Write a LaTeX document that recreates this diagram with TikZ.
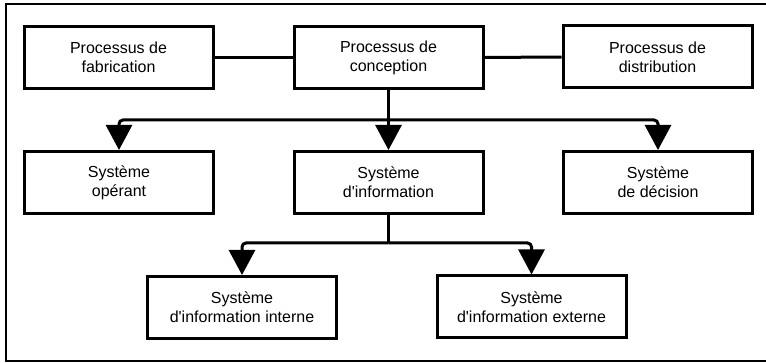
\documentclass[tikz,border=0pt]{standalone}
\usepackage{fontspec}
\setmainfont{Liberation Sans}[Ligatures=TeXOff]
\usetikzlibrary{arrows.meta}

\tikzset{
  boite/.style={draw, line width=3pt, fill=white, align=center,
    minimum width=189pt, minimum height=62pt,
    font=\fontsize{16}{19}\selectfont},
  lien/.style={line width=3pt},
  fleche/.style={lien, rounded corners=4pt,
    -{Triangle[length=25pt,width=26pt]}}
}

\begin{document}
\begin{tikzpicture}[x=1pt, y=-1pt]
    \useasboundingbox (0,0) rectangle (766,363);
    \draw[line width=1.6pt] (766,4) -- (6,4) -- (6,361) -- (766,361);
    % processus
    \node[boite] (fab)  at (118.5,57.5) {Processus de\\fabrication};
    \node[boite] (conc) at (388.5,57.5) {Processus de\\conception};
    \node[boite] (dist) at (657.5,57)   {Processus de\\distribution};
    % systemes
    \node[boite] (oper) at (119,182.5)   {Système\\opérant};
    \node[boite] (info) at (388.5,182.5) {Système\\d'information};
    \node[boite] (deci) at (658,182.5)   {Système\\de décision};
    \node[boite] (inter) at (242,307.5)  {Système\\d'information interne};
    \node[boite] (exter) at (531.5,307)  {Système\\d'information externe};
    \coordinate (bus1) at (388.5,120);
    \coordinate (bus2) at (388.5,243);
    \draw[lien] (fab) -- (conc);
    \draw[lien] (conc) -- (dist);
    \draw[lien] (conc.south) -- (bus1);
    \draw[fleche] (bus1) -| (oper.north);
    \draw[fleche] (bus1) -- (info.north);
    \draw[fleche] (bus1) -| (deci.north);
    \draw[lien] (info.south) -- (bus2);
    \draw[fleche] (bus2) -| (inter.north);
    \draw[fleche] (bus2) -| (exter.north);
\end{tikzpicture}
\end{document}
